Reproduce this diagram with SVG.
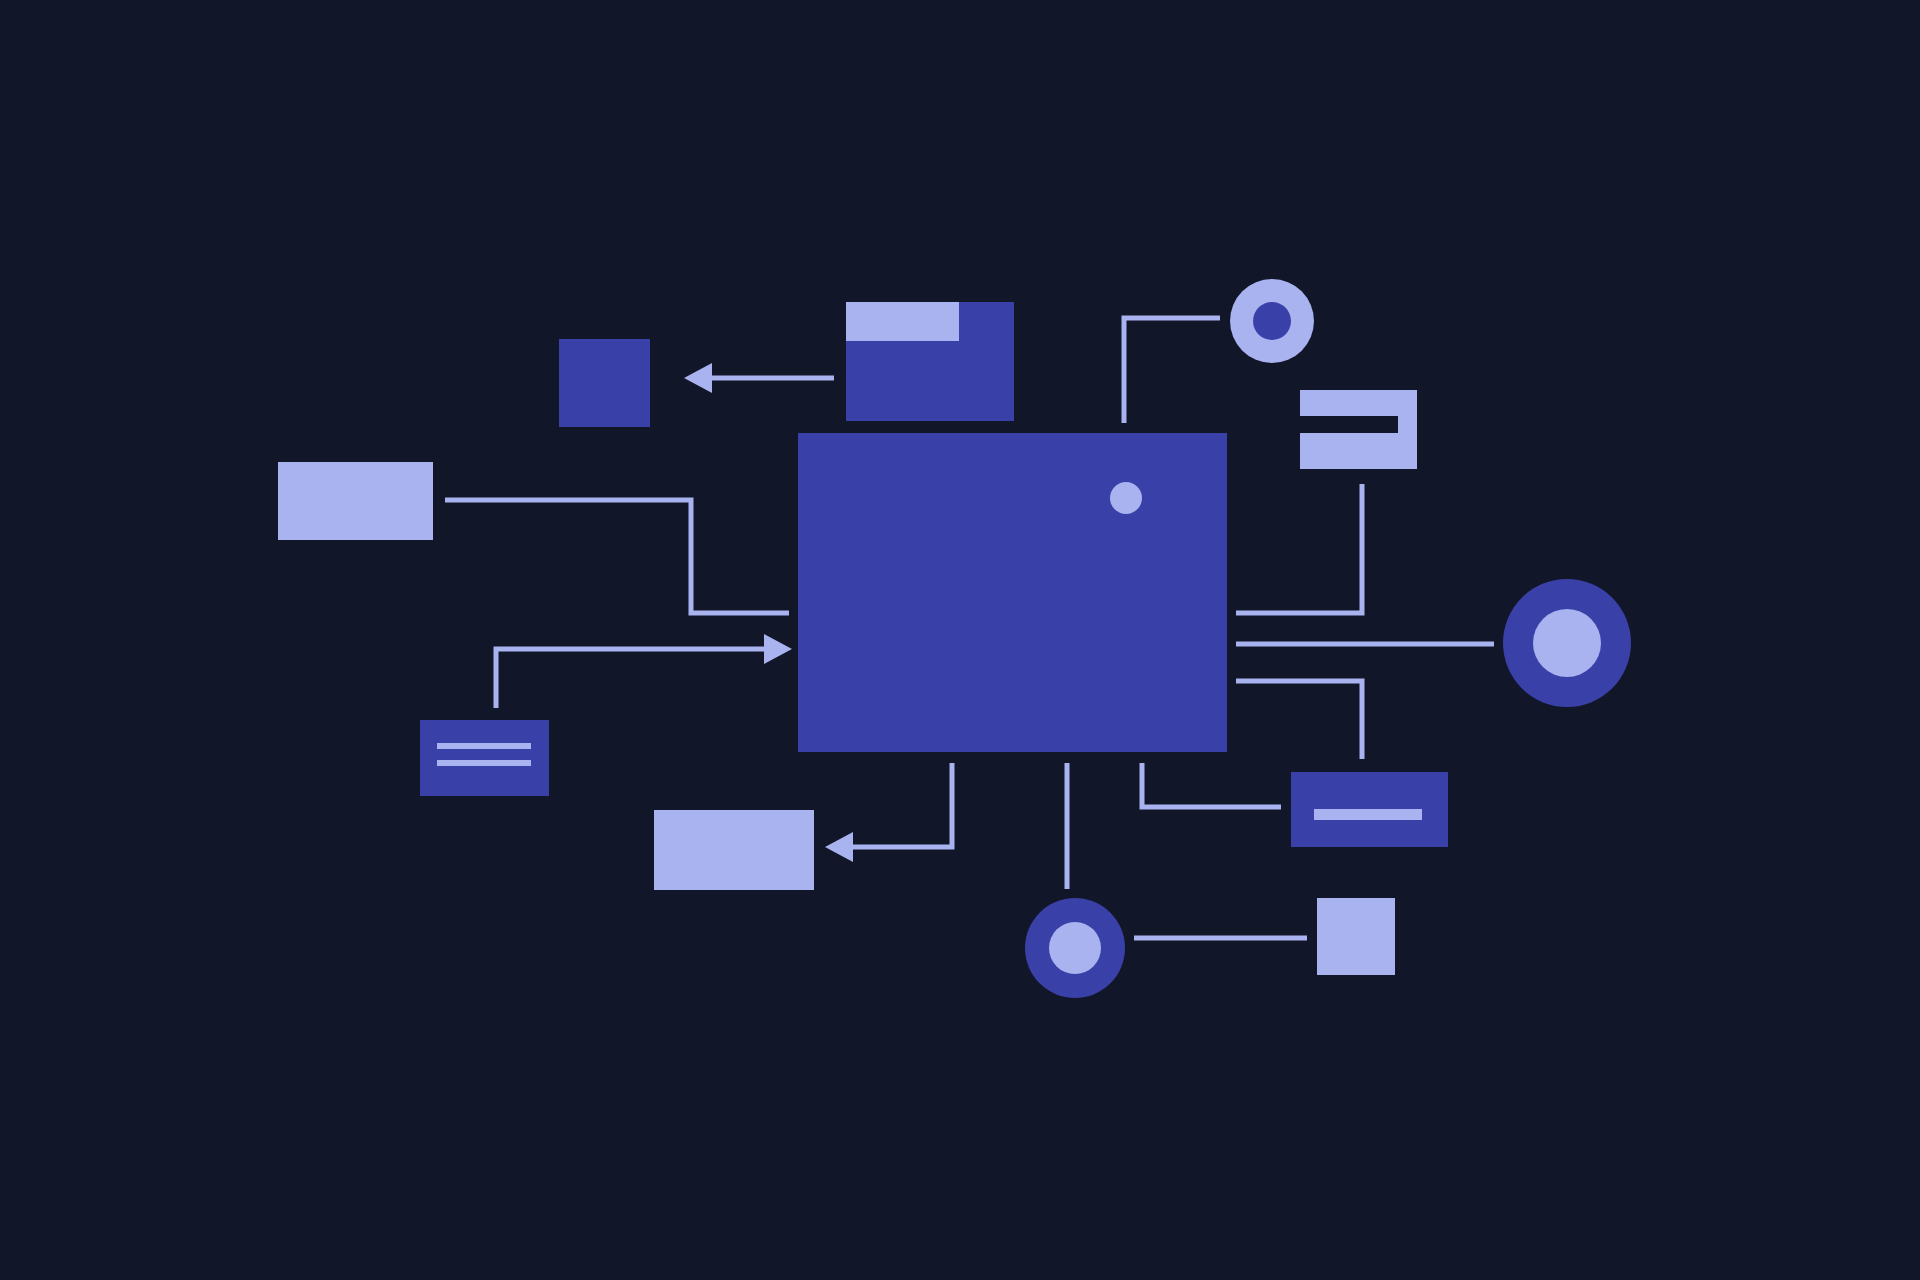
<svg xmlns="http://www.w3.org/2000/svg" width="1920" height="1280" viewBox="0 0 1920 1280">
  <defs>
    <style>
      .bg { fill: #121629; }
      .blue { fill: #3941A9; }
      .light { fill: #A9B3F0; }
      .wire { fill: none; stroke: #A9B3F0; stroke-width: 5; stroke-linejoin: miter; stroke-linecap: butt; }
    </style>
    <marker id="arrow" viewBox="0 0 28 30" refX="0" refY="15" markerWidth="28" markerHeight="30" markerUnits="userSpaceOnUse" orient="auto">
      <path d="M0,0 L28,15 L0,30 Z" fill="#A9B3F0"/>
    </marker>
  </defs>

  <rect class="bg" x="0" y="0" width="1920" height="1280"/>

  <g id="connectors">
    <path class="wire" d="M834,378 H712" marker-end="url(#arrow)"/>
    <path class="wire" d="M1124,423 V318 H1220"/>
    <path class="wire" d="M445,500 H691 V613 H789"/>
    <path class="wire" d="M496,708 V649 H764" marker-end="url(#arrow)"/>
    <path class="wire" d="M1236,613 H1362 V484"/>
    <path class="wire" d="M1236,644 H1494"/>
    <path class="wire" d="M1236,681 H1362 V759"/>
    <path class="wire" d="M952,763 V847 H853" marker-end="url(#arrow)"/>
    <path class="wire" d="M1067,763 V889"/>
    <path class="wire" d="M1142,763 V807 H1281"/>
    <path class="wire" d="M1134,938 H1307"/>
  </g>

  <g id="core">
    <rect class="blue" x="798" y="433" width="429" height="319"/>
    <circle class="light" cx="1126" cy="498" r="16"/>
  </g>

  <g id="header-box">
    <rect class="blue" x="846" y="302" width="168" height="119"/>
    <rect class="light" x="846" y="302" width="113" height="39"/>
  </g>

  <g id="small-box">
    <rect class="blue" x="559" y="339" width="91" height="88"/>
  </g>

  <g id="ring-top">
    <circle class="light" cx="1272" cy="321" r="42"/>
    <circle class="blue" cx="1272" cy="321" r="19"/>
  </g>

  <g id="slot-box">
    <rect class="light" x="1300" y="390" width="117" height="79"/>
    <rect class="bg" x="1300" y="416" width="98" height="17"/>
  </g>

  <g id="ring-right">
    <circle class="blue" cx="1567" cy="643" r="64"/>
    <circle class="light" cx="1567" cy="643" r="34"/>
  </g>

  <g id="bar-box">
    <rect class="blue" x="1291" y="772" width="157" height="75"/>
    <rect class="light" x="1314" y="809" width="108" height="11"/>
  </g>

  <g id="input-box">
    <rect class="light" x="278" y="462" width="155" height="78"/>
  </g>

  <g id="lines-box">
    <rect class="blue" x="420" y="720" width="129" height="76"/>
    <rect class="light" x="437" y="743" width="94" height="6"/>
    <rect class="light" x="437" y="760" width="94" height="6"/>
  </g>

  <g id="output-box">
    <rect class="light" x="654" y="810" width="160" height="80"/>
  </g>

  <g id="ring-bottom">
    <circle class="blue" cx="1075" cy="948" r="50"/>
    <circle class="light" cx="1075" cy="948" r="26"/>
  </g>

  <g id="end-box">
    <rect class="light" x="1317" y="898" width="78" height="77"/>
  </g>
</svg>
